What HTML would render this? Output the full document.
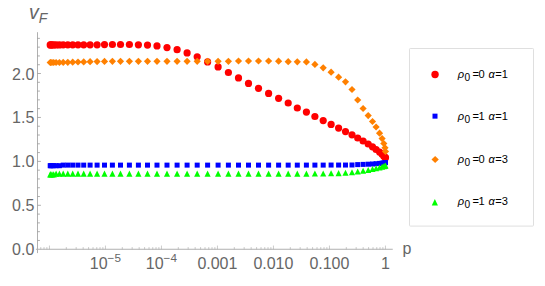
<!DOCTYPE html><html><head><meta charset="utf-8"><style>html,body{margin:0;padding:0;background:#fff}svg{display:block}body{font-family:"Liberation Sans",sans-serif}</style></head><body>
<svg width="545" height="286" viewBox="0 0 545 286">
<rect width="545" height="286" fill="#fff"/>
<g stroke="#b0b0b0" stroke-width="1" fill="none" shape-rendering="auto">
<line x1="37.5" y1="32.2" x2="37.5" y2="253.1"/>
<line x1="35.9" y1="249.25" x2="392.75" y2="249.25"/>
</g>
<g stroke="#999999" stroke-width="0.5" fill="none">
<line x1="37.5" y1="240.46" x2="39.90" y2="240.46" stroke-width="0.8"/>
<line x1="37.5" y1="231.68" x2="39.90" y2="231.68" stroke-width="0.8"/>
<line x1="37.5" y1="222.89" x2="39.90" y2="222.89" stroke-width="0.8"/>
<line x1="37.5" y1="214.10" x2="39.90" y2="214.10" stroke-width="0.8"/>
<line x1="37.5" y1="205.31" x2="40.90" y2="205.31" stroke-width="0.8"/>
<line x1="37.5" y1="196.53" x2="39.90" y2="196.53" stroke-width="0.8"/>
<line x1="37.5" y1="187.74" x2="39.90" y2="187.74" stroke-width="0.8"/>
<line x1="37.5" y1="178.95" x2="39.90" y2="178.95" stroke-width="0.8"/>
<line x1="37.5" y1="170.17" x2="39.90" y2="170.17" stroke-width="0.8"/>
<line x1="37.5" y1="161.38" x2="40.90" y2="161.38" stroke-width="0.8"/>
<line x1="37.5" y1="152.59" x2="39.90" y2="152.59" stroke-width="0.8"/>
<line x1="37.5" y1="143.81" x2="39.90" y2="143.81" stroke-width="0.8"/>
<line x1="37.5" y1="135.02" x2="39.90" y2="135.02" stroke-width="0.8"/>
<line x1="37.5" y1="126.23" x2="39.90" y2="126.23" stroke-width="0.8"/>
<line x1="37.5" y1="117.44" x2="40.90" y2="117.44" stroke-width="0.8"/>
<line x1="37.5" y1="108.66" x2="39.90" y2="108.66" stroke-width="0.8"/>
<line x1="37.5" y1="99.87" x2="39.90" y2="99.87" stroke-width="0.8"/>
<line x1="37.5" y1="91.08" x2="39.90" y2="91.08" stroke-width="0.8"/>
<line x1="37.5" y1="82.30" x2="39.90" y2="82.30" stroke-width="0.8"/>
<line x1="37.5" y1="73.51" x2="40.90" y2="73.51" stroke-width="0.8"/>
<line x1="37.5" y1="64.72" x2="39.90" y2="64.72" stroke-width="0.8"/>
<line x1="37.5" y1="55.94" x2="39.90" y2="55.94" stroke-width="0.8"/>
<line x1="37.5" y1="47.15" x2="39.90" y2="47.15" stroke-width="0.8"/>
<line x1="37.5" y1="38.36" x2="39.90" y2="38.36" stroke-width="0.8"/>
<line x1="40.78" y1="249.25" x2="40.78" y2="247.05"/>
<line x1="44.02" y1="249.25" x2="44.02" y2="247.05"/>
<line x1="46.89" y1="249.25" x2="46.89" y2="247.05"/>
<line x1="49.45" y1="249.25" x2="49.45" y2="245.55"/>
<line x1="66.31" y1="249.25" x2="66.31" y2="247.05"/>
<line x1="76.17" y1="249.25" x2="76.17" y2="247.05"/>
<line x1="83.17" y1="249.25" x2="83.17" y2="247.05"/>
<line x1="88.59" y1="249.25" x2="88.59" y2="247.05"/>
<line x1="93.03" y1="249.25" x2="93.03" y2="247.05"/>
<line x1="96.78" y1="249.25" x2="96.78" y2="247.05"/>
<line x1="100.02" y1="249.25" x2="100.02" y2="247.05"/>
<line x1="102.89" y1="249.25" x2="102.89" y2="247.05"/>
<line x1="105.45" y1="249.25" x2="105.45" y2="245.55"/>
<line x1="122.31" y1="249.25" x2="122.31" y2="247.05"/>
<line x1="132.17" y1="249.25" x2="132.17" y2="247.05"/>
<line x1="139.17" y1="249.25" x2="139.17" y2="247.05"/>
<line x1="144.59" y1="249.25" x2="144.59" y2="247.05"/>
<line x1="149.03" y1="249.25" x2="149.03" y2="247.05"/>
<line x1="152.78" y1="249.25" x2="152.78" y2="247.05"/>
<line x1="156.02" y1="249.25" x2="156.02" y2="247.05"/>
<line x1="158.89" y1="249.25" x2="158.89" y2="247.05"/>
<line x1="161.45" y1="249.25" x2="161.45" y2="245.55"/>
<line x1="178.31" y1="249.25" x2="178.31" y2="247.05"/>
<line x1="188.17" y1="249.25" x2="188.17" y2="247.05"/>
<line x1="195.17" y1="249.25" x2="195.17" y2="247.05"/>
<line x1="200.59" y1="249.25" x2="200.59" y2="247.05"/>
<line x1="205.03" y1="249.25" x2="205.03" y2="247.05"/>
<line x1="208.78" y1="249.25" x2="208.78" y2="247.05"/>
<line x1="212.02" y1="249.25" x2="212.02" y2="247.05"/>
<line x1="214.89" y1="249.25" x2="214.89" y2="247.05"/>
<line x1="217.45" y1="249.25" x2="217.45" y2="245.55"/>
<line x1="234.31" y1="249.25" x2="234.31" y2="247.05"/>
<line x1="244.17" y1="249.25" x2="244.17" y2="247.05"/>
<line x1="251.17" y1="249.25" x2="251.17" y2="247.05"/>
<line x1="256.59" y1="249.25" x2="256.59" y2="247.05"/>
<line x1="261.03" y1="249.25" x2="261.03" y2="247.05"/>
<line x1="264.78" y1="249.25" x2="264.78" y2="247.05"/>
<line x1="268.02" y1="249.25" x2="268.02" y2="247.05"/>
<line x1="270.89" y1="249.25" x2="270.89" y2="247.05"/>
<line x1="273.45" y1="249.25" x2="273.45" y2="245.55"/>
<line x1="290.31" y1="249.25" x2="290.31" y2="247.05"/>
<line x1="300.17" y1="249.25" x2="300.17" y2="247.05"/>
<line x1="307.17" y1="249.25" x2="307.17" y2="247.05"/>
<line x1="312.59" y1="249.25" x2="312.59" y2="247.05"/>
<line x1="317.03" y1="249.25" x2="317.03" y2="247.05"/>
<line x1="320.78" y1="249.25" x2="320.78" y2="247.05"/>
<line x1="324.02" y1="249.25" x2="324.02" y2="247.05"/>
<line x1="326.89" y1="249.25" x2="326.89" y2="247.05"/>
<line x1="329.45" y1="249.25" x2="329.45" y2="245.55"/>
<line x1="346.31" y1="249.25" x2="346.31" y2="247.05"/>
<line x1="356.17" y1="249.25" x2="356.17" y2="247.05"/>
<line x1="363.17" y1="249.25" x2="363.17" y2="247.05"/>
<line x1="368.59" y1="249.25" x2="368.59" y2="247.05"/>
<line x1="373.03" y1="249.25" x2="373.03" y2="247.05"/>
<line x1="376.78" y1="249.25" x2="376.78" y2="247.05"/>
<line x1="380.02" y1="249.25" x2="380.02" y2="247.05"/>
<line x1="382.89" y1="249.25" x2="382.89" y2="247.05"/>
<line x1="385.45" y1="249.25" x2="385.45" y2="245.55"/>
</g>
<g fill="#666" font-family="'Liberation Sans', sans-serif" font-size="16">
<text x="34.3" y="255.25" text-anchor="end">0.0</text>
<text x="34.3" y="211.31" text-anchor="end">0.5</text>
<text x="34.3" y="167.38" text-anchor="end">1.0</text>
<text x="34.3" y="123.44" text-anchor="end">1.5</text>
<text x="34.3" y="79.51" text-anchor="end">2.0</text>
<text x="217.4" y="268.9" text-anchor="middle">0.001</text>
<text x="273.4" y="268.9" text-anchor="middle">0.010</text>
<text x="329.4" y="268.9" text-anchor="middle">0.100</text>
<text x="385.4" y="268.9" text-anchor="middle">1</text>
<text x="89.8" y="268.9">10<tspan font-size="11.7" dy="-7.4">−5</tspan></text>
<text x="145.8" y="268.9">10<tspan font-size="11.7" dy="-7.4">−4</tspan></text>
<text x="402.5" y="254.2">p</text>
<text x="29" y="19.3" font-size="19.5" font-style="italic">v<tspan font-size="14" dy="4.1">F</tspan></text>
</g>
<g fill="#ff0000">
<circle cx="50.2" cy="44.90" r="3.6"/>
<circle cx="50.8" cy="44.90" r="3.6"/>
<circle cx="52.0" cy="44.90" r="3.6"/>
<circle cx="53.7" cy="44.90" r="3.6"/>
<circle cx="56.1" cy="44.90" r="3.6"/>
<circle cx="59.4" cy="44.90" r="3.6"/>
<circle cx="63.2" cy="44.80" r="3.6"/>
<circle cx="67.8" cy="44.80" r="3.6"/>
<circle cx="72.7" cy="44.80" r="3.6"/>
<circle cx="78.0" cy="44.80" r="3.6"/>
<circle cx="83.7" cy="44.80" r="3.6"/>
<circle cx="90.1" cy="44.80" r="3.6"/>
<circle cx="97.1" cy="44.80" r="3.6"/>
<circle cx="104.5" cy="44.60" r="3.6"/>
<circle cx="112.4" cy="44.50" r="3.6"/>
<circle cx="120.5" cy="44.50" r="3.6"/>
<circle cx="129.4" cy="44.50" r="3.6"/>
<circle cx="138.4" cy="44.80" r="3.6"/>
<circle cx="147.5" cy="45.05" r="3.6"/>
<circle cx="157.0" cy="45.90" r="3.6"/>
<circle cx="167.0" cy="47.55" r="3.6"/>
<circle cx="177.1" cy="49.70" r="3.6"/>
<circle cx="187.1" cy="52.90" r="3.6"/>
<circle cx="197.2" cy="56.80" r="3.6"/>
<circle cx="207.6" cy="61.90" r="3.6"/>
<circle cx="218.1" cy="66.90" r="3.6"/>
<circle cx="228.4" cy="72.50" r="3.6"/>
<circle cx="238.5" cy="77.90" r="3.6"/>
<circle cx="248.5" cy="83.40" r="3.6"/>
<circle cx="258.5" cy="88.30" r="3.6"/>
<circle cx="268.6" cy="93.40" r="3.6"/>
<circle cx="278.6" cy="98.30" r="3.6"/>
<circle cx="288.2" cy="103.00" r="3.6"/>
<circle cx="297.3" cy="108.00" r="3.6"/>
<circle cx="306.4" cy="112.10" r="3.6"/>
<circle cx="314.9" cy="116.50" r="3.6"/>
<circle cx="323.2" cy="120.60" r="3.6"/>
<circle cx="331.1" cy="124.40" r="3.6"/>
<circle cx="338.6" cy="128.10" r="3.6"/>
<circle cx="345.5" cy="131.60" r="3.6"/>
<circle cx="352.0" cy="134.80" r="3.6"/>
<circle cx="357.7" cy="138.00" r="3.6"/>
<circle cx="363.1" cy="141.00" r="3.6"/>
<circle cx="368.2" cy="144.00" r="3.6"/>
<circle cx="372.5" cy="146.80" r="3.6"/>
<circle cx="376.1" cy="149.50" r="3.6"/>
<circle cx="379.55" cy="152.10" r="3.6"/>
<circle cx="382.1" cy="154.20" r="3.6"/>
<circle cx="383.8" cy="156.20" r="3.6"/>
<circle cx="385.0" cy="157.30" r="3.6"/>
<circle cx="385.5" cy="157.70" r="3.6"/>
</g>
<g fill="#0000ff">
<rect x="47.70" y="163.20" width="5" height="5"/>
<rect x="48.30" y="163.20" width="5" height="5"/>
<rect x="49.50" y="163.20" width="5" height="5"/>
<rect x="51.20" y="163.20" width="5" height="5"/>
<rect x="53.60" y="163.20" width="5" height="5"/>
<rect x="56.90" y="163.20" width="5" height="5"/>
<rect x="60.70" y="162.62" width="5" height="5"/>
<rect x="65.30" y="162.62" width="5" height="5"/>
<rect x="70.20" y="162.62" width="5" height="5"/>
<rect x="75.50" y="162.62" width="5" height="5"/>
<rect x="81.20" y="162.62" width="5" height="5"/>
<rect x="87.60" y="162.62" width="5" height="5"/>
<rect x="94.60" y="162.62" width="5" height="5"/>
<rect x="102.00" y="162.62" width="5" height="5"/>
<rect x="109.90" y="162.62" width="5" height="5"/>
<rect x="118.00" y="162.62" width="5" height="5"/>
<rect x="126.90" y="162.62" width="5" height="5"/>
<rect x="135.90" y="162.62" width="5" height="5"/>
<rect x="145.00" y="162.62" width="5" height="5"/>
<rect x="154.50" y="162.62" width="5" height="5"/>
<rect x="164.50" y="162.62" width="5" height="5"/>
<rect x="174.60" y="162.62" width="5" height="5"/>
<rect x="184.60" y="162.62" width="5" height="5"/>
<rect x="194.70" y="162.62" width="5" height="5"/>
<rect x="205.10" y="162.62" width="5" height="5"/>
<rect x="215.60" y="162.62" width="5" height="5"/>
<rect x="225.90" y="162.62" width="5" height="5"/>
<rect x="236.00" y="162.62" width="5" height="5"/>
<rect x="246.00" y="162.62" width="5" height="5"/>
<rect x="256.00" y="162.62" width="5" height="5"/>
<rect x="266.10" y="162.62" width="5" height="5"/>
<rect x="276.10" y="162.62" width="5" height="5"/>
<rect x="285.70" y="162.62" width="5" height="5"/>
<rect x="294.80" y="162.62" width="5" height="5"/>
<rect x="303.90" y="162.60" width="5" height="5"/>
<rect x="312.40" y="162.60" width="5" height="5"/>
<rect x="320.70" y="162.60" width="5" height="5"/>
<rect x="328.60" y="162.55" width="5" height="5"/>
<rect x="336.10" y="162.55" width="5" height="5"/>
<rect x="343.00" y="162.55" width="5" height="5"/>
<rect x="349.50" y="162.50" width="5" height="5"/>
<rect x="355.20" y="162.10" width="5" height="5"/>
<rect x="360.60" y="161.90" width="5" height="5"/>
<rect x="365.70" y="161.70" width="5" height="5"/>
<rect x="370.00" y="161.50" width="5" height="5"/>
<rect x="373.60" y="161.20" width="5" height="5"/>
<rect x="377.05" y="160.90" width="5" height="5"/>
<rect x="379.60" y="160.60" width="5" height="5"/>
<rect x="381.30" y="160.40" width="5" height="5"/>
<rect x="382.50" y="160.20" width="5" height="5"/>
<rect x="383.00" y="160.10" width="5" height="5"/>
</g>
<g fill="#ff8000">
<path d="M46.60 62.5L50.2 58.90L53.80 62.5L50.2 66.10Z"/>
<path d="M47.20 62.5L50.8 58.90L54.40 62.5L50.8 66.10Z"/>
<path d="M48.40 62.5L52.0 58.90L55.60 62.5L52.0 66.10Z"/>
<path d="M50.10 62.5L53.7 58.90L57.30 62.5L53.7 66.10Z"/>
<path d="M52.50 62.5L56.1 58.90L59.70 62.5L56.1 66.10Z"/>
<path d="M55.80 62.5L59.4 58.90L63.00 62.5L59.4 66.10Z"/>
<path d="M59.60 62.4L63.2 58.80L66.80 62.4L63.2 66.00Z"/>
<path d="M64.20 62.3L67.8 58.70L71.40 62.3L67.8 65.90Z"/>
<path d="M69.10 62.2L72.7 58.60L76.30 62.2L72.7 65.80Z"/>
<path d="M74.40 62.0L78.0 58.40L81.60 62.0L78.0 65.60Z"/>
<path d="M80.10 61.9L83.7 58.30L87.30 61.9L83.7 65.50Z"/>
<path d="M86.50 61.7L90.1 58.10L93.70 61.7L90.1 65.30Z"/>
<path d="M93.50 61.6L97.1 58.00L100.70 61.6L97.1 65.20Z"/>
<path d="M100.90 61.4L104.5 57.80L108.10 61.4L104.5 65.00Z"/>
<path d="M108.80 61.3L112.4 57.70L116.00 61.3L112.4 64.90Z"/>
<path d="M116.90 61.3L120.5 57.70L124.10 61.3L120.5 64.90Z"/>
<path d="M125.80 61.3L129.4 57.70L133.00 61.3L129.4 64.90Z"/>
<path d="M134.80 61.3L138.4 57.70L142.00 61.3L138.4 64.90Z"/>
<path d="M143.90 61.3L147.5 57.70L151.10 61.3L147.5 64.90Z"/>
<path d="M153.40 61.3L157.0 57.70L160.60 61.3L157.0 64.90Z"/>
<path d="M163.40 61.3L167.0 57.70L170.60 61.3L167.0 64.90Z"/>
<path d="M173.50 61.3L177.1 57.70L180.70 61.3L177.1 64.90Z"/>
<path d="M183.50 61.3L187.1 57.70L190.70 61.3L187.1 64.90Z"/>
<path d="M193.60 61.3L197.2 57.70L200.80 61.3L197.2 64.90Z"/>
<path d="M204.00 61.3L207.6 57.70L211.20 61.3L207.6 64.90Z"/>
<path d="M214.50 61.3L218.1 57.70L221.70 61.3L218.1 64.90Z"/>
<path d="M224.80 61.3L228.4 57.70L232.00 61.3L228.4 64.90Z"/>
<path d="M234.90 61.0L238.5 57.40L242.10 61.0L238.5 64.60Z"/>
<path d="M244.90 61.0L248.5 57.40L252.10 61.0L248.5 64.60Z"/>
<path d="M254.90 61.0L258.5 57.40L262.10 61.0L258.5 64.60Z"/>
<path d="M265.00 61.0L268.6 57.40L272.20 61.0L268.6 64.60Z"/>
<path d="M275.00 61.2L278.6 57.60L282.20 61.2L278.6 64.80Z"/>
<path d="M284.60 61.7L288.2 58.10L291.80 61.7L288.2 65.30Z"/>
<path d="M293.70 61.8L297.3 58.20L300.90 61.8L297.3 65.40Z"/>
<path d="M302.80 61.9L306.4 58.30L310.00 61.9L306.4 65.50Z"/>
<path d="M311.30 64.4L314.9 60.80L318.50 64.4L314.9 68.00Z"/>
<path d="M319.60 67.8L323.2 64.20L326.80 67.8L323.2 71.40Z"/>
<path d="M327.50 72.2L331.1 68.60L334.70 72.2L331.1 75.80Z"/>
<path d="M335.00 77.2L338.6 73.60L342.20 77.2L338.6 80.80Z"/>
<path d="M341.90 81.8L345.5 78.20L349.10 81.8L345.5 85.40Z"/>
<path d="M348.40 89.5L352.0 85.90L355.60 89.5L352.0 93.10Z"/>
<path d="M354.10 100.0L357.7 96.40L361.30 100.0L357.7 103.60Z"/>
<path d="M359.50 108.5L363.1 104.90L366.70 108.5L363.1 112.10Z"/>
<path d="M364.60 115.6L368.2 112.00L371.80 115.6L368.2 119.20Z"/>
<path d="M368.90 121.5L372.5 117.90L376.10 121.5L372.5 125.10Z"/>
<path d="M372.50 127.0L376.1 123.40L379.70 127.0L376.1 130.60Z"/>
<path d="M375.95 133.2L379.55 129.60L383.15 133.2L379.55 136.80Z"/>
<path d="M378.50 138.6L382.1 135.00L385.70 138.6L382.1 142.20Z"/>
<path d="M380.20 143.5L383.8 139.90L387.40 143.5L383.8 147.10Z"/>
<path d="M381.40 147.8L385.0 144.20L388.60 147.8L385.0 151.40Z"/>
<path d="M381.90 151.4L385.5 147.80L389.10 151.4L385.5 155.00Z"/>
</g>
<g fill="#00ff00">
<path d="M47.15 177.45L50.2 171.35L53.25 177.45Z"/>
<path d="M47.75 177.45L50.8 171.35L53.85 177.45Z"/>
<path d="M48.95 177.45L52.0 171.35L55.05 177.45Z"/>
<path d="M50.65 177.45L53.7 171.35L56.75 177.45Z"/>
<path d="M53.05 176.7L56.1 170.60L59.15 176.7Z"/>
<path d="M56.35 176.7L59.4 170.60L62.45 176.7Z"/>
<path d="M60.15 176.7L63.2 170.60L66.25 176.7Z"/>
<path d="M64.75 176.7L67.8 170.60L70.85 176.7Z"/>
<path d="M69.65 176.7L72.7 170.60L75.75 176.7Z"/>
<path d="M74.95 176.7L78.0 170.60L81.05 176.7Z"/>
<path d="M80.65 176.7L83.7 170.60L86.75 176.7Z"/>
<path d="M87.05 176.7L90.1 170.60L93.15 176.7Z"/>
<path d="M94.05 176.7L97.1 170.60L100.15 176.7Z"/>
<path d="M101.45 176.7L104.5 170.60L107.55 176.7Z"/>
<path d="M109.35 176.7L112.4 170.60L115.45 176.7Z"/>
<path d="M117.45 176.7L120.5 170.60L123.55 176.7Z"/>
<path d="M126.35 176.7L129.4 170.60L132.45 176.7Z"/>
<path d="M135.35 176.7L138.4 170.60L141.45 176.7Z"/>
<path d="M144.45 176.7L147.5 170.60L150.55 176.7Z"/>
<path d="M153.95 176.7L157.0 170.60L160.05 176.7Z"/>
<path d="M163.95 176.7L167.0 170.60L170.05 176.7Z"/>
<path d="M174.05 176.7L177.1 170.60L180.15 176.7Z"/>
<path d="M184.05 176.7L187.1 170.60L190.15 176.7Z"/>
<path d="M194.15 176.7L197.2 170.60L200.25 176.7Z"/>
<path d="M204.55 176.7L207.6 170.60L210.65 176.7Z"/>
<path d="M215.05 176.7L218.1 170.60L221.15 176.7Z"/>
<path d="M225.35 176.7L228.4 170.60L231.45 176.7Z"/>
<path d="M235.45 176.7L238.5 170.60L241.55 176.7Z"/>
<path d="M245.45 176.7L248.5 170.60L251.55 176.7Z"/>
<path d="M255.45 176.7L258.5 170.60L261.55 176.7Z"/>
<path d="M265.55 176.7L268.6 170.60L271.65 176.7Z"/>
<path d="M275.55 176.7L278.6 170.60L281.65 176.7Z"/>
<path d="M285.15 176.7L288.2 170.60L291.25 176.7Z"/>
<path d="M294.25 176.7L297.3 170.60L300.35 176.7Z"/>
<path d="M303.35 176.65L306.4 170.55L309.45 176.65Z"/>
<path d="M311.85 176.6L314.9 170.50L317.95 176.6Z"/>
<path d="M320.15 176.5L323.2 170.40L326.25 176.5Z"/>
<path d="M328.05 176.35L331.1 170.25L334.15 176.35Z"/>
<path d="M335.55 176.15L338.6 170.05L341.65 176.15Z"/>
<path d="M342.45 175.85L345.5 169.75L348.55 175.85Z"/>
<path d="M348.95 175.3L352.0 169.20L355.05 175.3Z"/>
<path d="M354.65 174.5L357.7 168.40L360.75 174.5Z"/>
<path d="M360.05 173.8L363.1 167.70L366.15 173.8Z"/>
<path d="M365.15 173.0L368.2 166.90L371.25 173.0Z"/>
<path d="M369.45 172.1L372.5 166.00L375.55 172.1Z"/>
<path d="M373.05 171.3L376.1 165.20L379.15 171.3Z"/>
<path d="M376.50 170.6L379.55 164.50L382.60 170.6Z"/>
<path d="M379.05 169.8L382.1 163.70L385.15 169.8Z"/>
<path d="M380.75 169.3L383.8 163.20L386.85 169.3Z"/>
<path d="M381.95 168.9L385.0 162.80L388.05 168.9Z"/>
<path d="M382.45 168.6L385.5 162.50L388.55 168.6Z"/>
</g>
<rect x="409.5" y="48.5" width="124" height="177.6" rx="0.8" fill="#fff" stroke="#dfdfdf" stroke-width="1"/>
<circle cx="435.05" cy="74.5" r="3.7" fill="#ff0000"/>
<rect x="432.5" y="113.65" width="5" height="5" fill="#0000ff"/>
<path d="M431.50 159.5L435.15 156.00L438.80 159.5L435.15 163.00Z" fill="#ff8000"/>
<path d="M431.75 205.45L434.85 199.05L437.95 205.45Z" fill="#00ff00"/>
<g fill="#000" font-family="'Liberation Sans', sans-serif" font-size="11.1">
<text x="457.8" y="77.9"><tspan font-style="italic">ρ</tspan><tspan x="464.5" y="80.5" font-size="10.2">0</tspan><tspan x="472.4" y="77.9">=</tspan><tspan x="478.5" y="77.9">0</tspan><tspan x="488.5" y="77.9" font-style="italic">α</tspan><tspan x="495.3" y="77.9">=</tspan><tspan x="501.8" y="77.9">1</tspan></text>
</g>
<g fill="#000" font-family="'Liberation Sans', sans-serif" font-size="11.1">
<text x="457.8" y="120.4"><tspan font-style="italic">ρ</tspan><tspan x="464.5" y="123" font-size="10.2">0</tspan><tspan x="472.4" y="120.4">=</tspan><tspan x="478.5" y="120.4">1</tspan><tspan x="488.5" y="120.4" font-style="italic">α</tspan><tspan x="495.3" y="120.4">=</tspan><tspan x="501.8" y="120.4">1</tspan></text>
</g>
<g fill="#000" font-family="'Liberation Sans', sans-serif" font-size="11.1">
<text x="457.8" y="162.9"><tspan font-style="italic">ρ</tspan><tspan x="464.5" y="165.5" font-size="10.2">0</tspan><tspan x="472.4" y="162.9">=</tspan><tspan x="478.5" y="162.9">0</tspan><tspan x="488.5" y="162.9" font-style="italic">α</tspan><tspan x="495.3" y="162.9">=</tspan><tspan x="501.8" y="162.9">3</tspan></text>
</g>
<g fill="#000" font-family="'Liberation Sans', sans-serif" font-size="11.1">
<text x="457.8" y="205.4"><tspan font-style="italic">ρ</tspan><tspan x="464.5" y="208" font-size="10.2">0</tspan><tspan x="472.4" y="205.4">=</tspan><tspan x="478.5" y="205.4">1</tspan><tspan x="488.5" y="205.4" font-style="italic">α</tspan><tspan x="495.3" y="205.4">=</tspan><tspan x="501.8" y="205.4">3</tspan></text>
</g>
</svg></body></html>
